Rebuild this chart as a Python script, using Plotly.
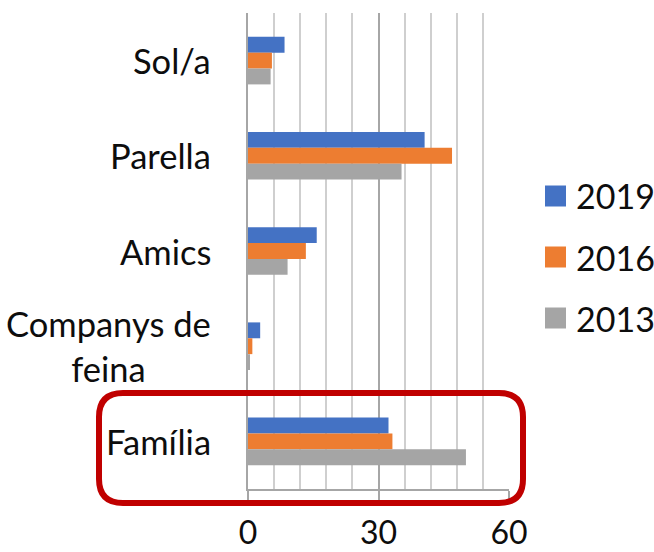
import plotly.graph_objects as go

categories = ["Sol/a", "Parella", "Amics", "Companys de feina", "Família"]
series_names = ["2019", "2016", "2013"]
values_2019 = [8.4, 40.6, 15.8, 2.8, 32.3]
values_2016 = [5.5, 46.9, 13.3, 1.0, 33.2]
values_2013 = [5.2, 35.3, 9.1, 0.3, 50.1]
x_ticks = [0, 30, 60]

colors = ["#4472C4", "#ED7D31", "#A5A5A5"]
font_family = "Lato, Carlito, Calibri, sans-serif"

# canvas + margins in pixels, used to place shapes/annotations in paper units
W, H = 654, 552
L, R, T, B = 248, 145, 13, 63
PW, PH = W - L - R, H - T - B


def px(x):
    return (x - L) / PW


def py(y):
    return (H - B - y) / PH


fig = go.Figure()
for name, vals, col in zip(series_names, [values_2019, values_2016, values_2013], colors):
    fig.add_trace(go.Bar(
        y=categories, x=vals, name=name, orientation="h",
        marker=dict(color=col, line=dict(width=0)),
        showlegend=False,
    ))

# category labels (right-aligned block, centred lines like the original)
for cat in categories:
    words = cat.split(" ")
    label = cat if len(words) < 3 else " ".join(words[:2]) + "<br>" + " ".join(words[2:])
    fig.add_annotation(
        x=px(213), xref="paper", y=cat, yref="y",
        text=label, showarrow=False, xanchor="right", align="center",
        font=dict(family=font_family, size=34.5, color="#0d0d0d"),
    )

# legend drawn by hand so the swatches are as big as the original
for i, (name, col) in enumerate(zip(series_names, colors)):
    cy = 196 + i * 61
    fig.add_shape(type="rect", xref="paper", yref="paper",
                  x0=px(545), x1=px(566), y0=py(cy + 10.5), y1=py(cy - 10.5),
                  fillcolor=col, line=dict(width=0))
    fig.add_annotation(x=px(574), y=py(cy), xref="paper", yref="paper",
                       text=name, showarrow=False, xanchor="left", yanchor="middle",
                       font=dict(family=font_family, size=34, color="#0d0d0d"))

# red rounded highlight box round Família
x0, x1, y0, y1, r = 99, 523, 393, 503, 24
path = (f"M {px(x0 + r)},{py(y0)} L {px(x1 - r)},{py(y0)} "
        f"Q {px(x1)},{py(y0)} {px(x1)},{py(y0 + r)} L {px(x1)},{py(y1 - r)} "
        f"Q {px(x1)},{py(y1)} {px(x1 - r)},{py(y1)} L {px(x0 + r)},{py(y1)} "
        f"Q {px(x0)},{py(y1)} {px(x0)},{py(y1 - r)} L {px(x0)},{py(y0 + r)} "
        f"Q {px(x0)},{py(y0)} {px(x0 + r)},{py(y0)} Z")
fig.add_shape(type="path", path=path, xref="paper", yref="paper",
              line=dict(color="#C00000", width=6), layer="above")

fig.update_layout(
    width=W, height=H,
    margin=dict(l=L, r=R, t=T, b=B),
    paper_bgcolor="white", plot_bgcolor="white",
    barmode="group", bargap=0.5, bargroupgap=0,
    showlegend=False,
    font=dict(family=font_family, color="#0d0d0d"),
)
fig.update_xaxes(
    range=[0, 60], tickvals=x_ticks, ticks="outside", ticklen=11,
    tickcolor="#a6a6a6", tickwidth=1.5,
    showgrid=True, gridcolor="#a6a6a6", gridwidth=1.5,
    minor=dict(dtick=6, tick0=0, showgrid=True, gridcolor="#cfcfcf", gridwidth=1.5),
    showline=True, linecolor="#a6a6a6", linewidth=1.5,
    zeroline=False, ticklabelstandoff=4, automargin=False,
    tickfont=dict(family=font_family, size=32, color="#0d0d0d"),
)
fig.update_yaxes(
    autorange="reversed", showticklabels=False, showgrid=False,
    showline=True, linecolor="#a6a6a6", linewidth=1.5, zeroline=False,
    automargin=False,
)

# drop the default body margin so the figure fills the window exactly
fig.write_html("out.html", config={"displayModeBar": False},
               post_script="document.body.style.margin='0';")
